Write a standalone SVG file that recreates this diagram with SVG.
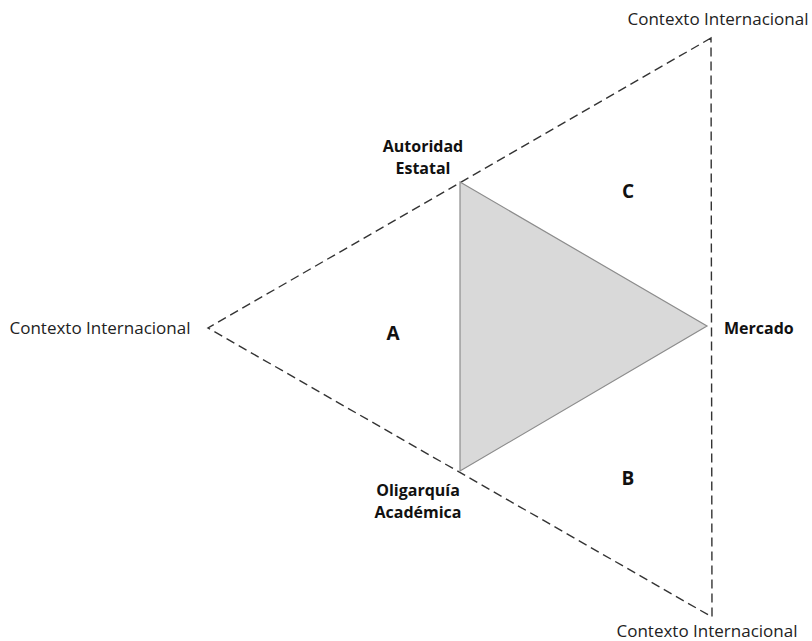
<svg xmlns="http://www.w3.org/2000/svg" width="812" height="641" viewBox="0 0 812 641">
<style>
.lbl{font-family:"Open Sans","Liberation Sans",sans-serif;font-size:17px;fill:#222}
.b{font-family:"Open Sans","Liberation Sans",sans-serif;font-size:16px;font-weight:bold;fill:#111}
.big{font-family:"Open Sans","Liberation Sans",sans-serif;font-size:19px;font-weight:bold;fill:#111}
.dash{fill:none;stroke:#333;stroke-width:1.4;stroke-dasharray:9 5}
</style>
<rect width="812" height="641" fill="#fff"/>
<g id="connectors">
<path class="dash" d="M711,38 L208,328 L712,617 Z"/>
</g>
<g id="inner-triangle">
<polygon points="460,182 707,326 460,471" fill="#d9d9d9" stroke="#8c8c8c" stroke-width="1.2"/>
</g>
<g id="ctx-top"><text class="lbl" x="718" y="25" text-anchor="middle">Contexto Internacional</text></g>
<g id="ctx-left"><text class="lbl" x="100" y="334" text-anchor="middle">Contexto Internacional</text></g>
<g id="ctx-bottom"><text class="lbl" x="707" y="637" text-anchor="middle">Contexto Internacional</text></g>
<g id="autoridad"><text class="b" x="423" y="152" text-anchor="middle">Autoridad</text><text class="b" x="423" y="174" text-anchor="middle">Estatal</text></g>
<g id="oligarquia"><text class="b" x="418" y="496" text-anchor="middle">Oligarquía</text><text class="b" x="418" y="518" text-anchor="middle">Académica</text></g>
<g id="mercado"><text class="b" x="724" y="334">Mercado</text></g>
<g id="A"><text class="big" x="393" y="340" text-anchor="middle">A</text></g>
<g id="B"><text class="big" x="628" y="485" text-anchor="middle">B</text></g>
<g id="C"><text class="big" x="628" y="198" text-anchor="middle">C</text></g>
</svg>
